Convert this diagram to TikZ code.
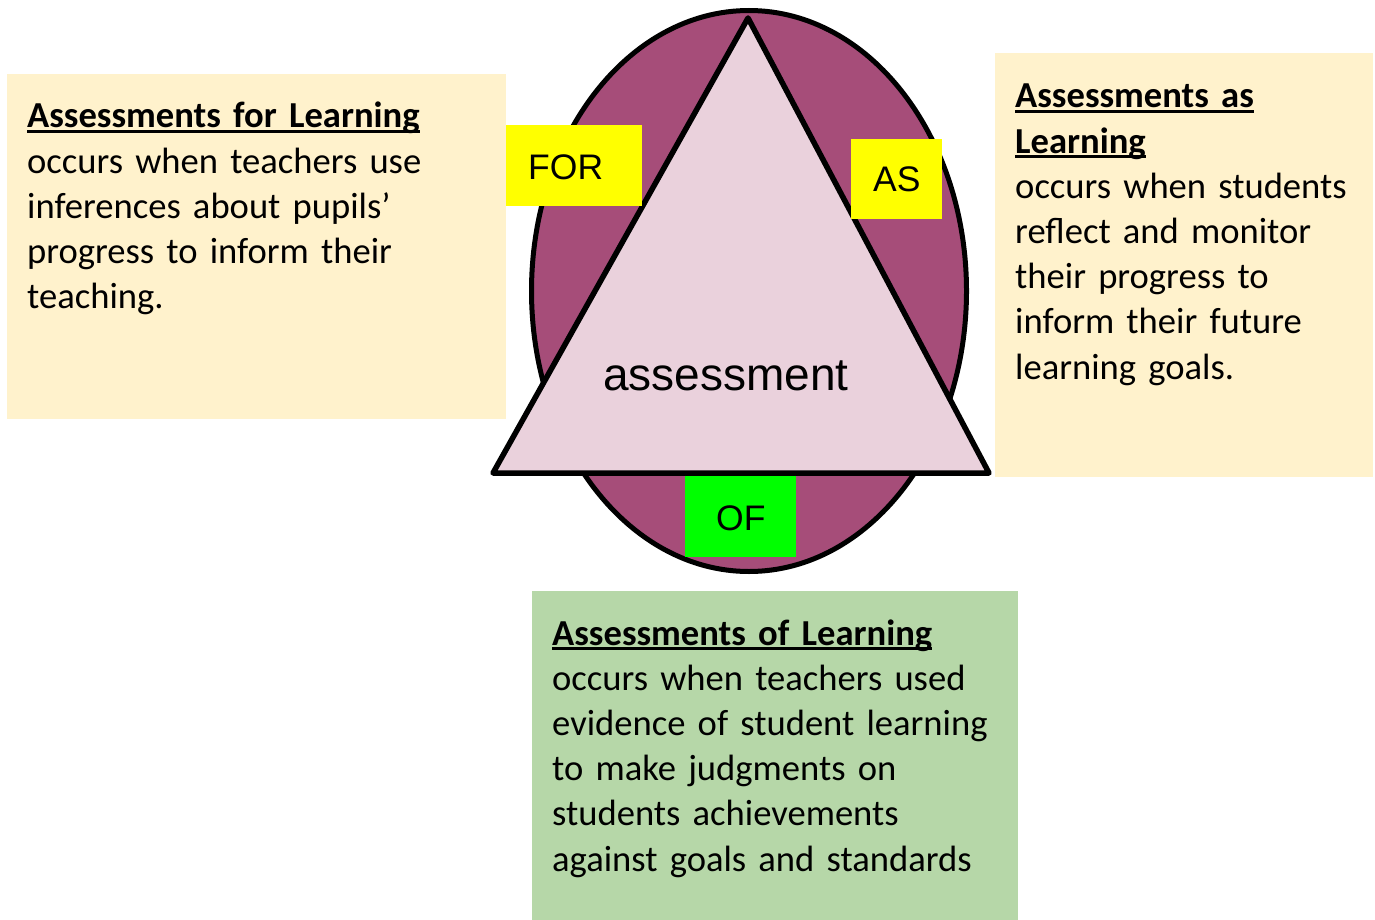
\documentclass[tikz,border=0pt]{standalone}
\usepackage{fontspec}
\usetikzlibrary{shapes.geometric}
\setmainfont[WordSpace=0.75]{Carlito}
\newfontfamily\arialf{Liberation Sans}
\definecolor{cream}{HTML}{FFF2CC}
\definecolor{plum}{HTML}{A64D79}
\definecolor{pinkfill}{HTML}{EAD1DC}
\definecolor{sage}{HTML}{B6D7A8}
\definecolor{yel}{HTML}{FFFF00}
\definecolor{lime}{HTML}{00FF00}
\newcommand\myul[1]{\setbox0\hbox{#1}\rlap{\rule[-5pt]{\wd0}{2.8pt}}\box0}
\tikzset{
  body/.style={anchor=base west,inner sep=0,text width=#1,align=left,
    font=\fontsize{36.6}{45.2}\selectfont},
  tag/.style={anchor=base west,inner sep=0,font=\arialf\fontsize{35.5}{40}\selectfont}
}
\begin{document}
\begin{tikzpicture}[x=1pt,y=-1pt]
\useasboundingbox (0,0) rectangle (1375,920);
% panels
\fill[cream] (7,74) rectangle (506,419);
\fill[cream] (995,53) rectangle (1373,477);
\fill[sage] (532,591) rectangle (1018,920);
% ellipse and triangle
\node[draw=black,line width=5pt,fill=plum,ellipse,minimum width=435pt,minimum height=561pt,inner sep=0] (ell) at (749,291) {};
\coordinate (apex) at (748,18);
\coordinate (bl) at (493,473);
\coordinate (br) at (989,473);
\draw[line width=5.5pt,line join=round,fill=pinkfill] (apex) -- (bl) -- (br) -- cycle;
% tag boxes
\fill[yel] (506,125) rectangle (642,206);
\fill[yel] (851,139) rectangle (942,219);
\fill[lime] (685,476) rectangle (796,557);
\node[tag] (for) at (528,179) {FOR};
\node[tag] (as) at (873,192) {AS};
\node[tag] (of) at (716,530) {OF};
\node[anchor=base west,inner sep=0,font=\arialf\fontsize{46}{50}\selectfont] (assess) at (603,390) {assessment};
% texts
\node[body=470pt] (lt) at (27,128) {\textbf{\myul{Assessments for Learning}}\\
occurs when teachers use\\
inferences about pupils’\\
progress to inform their\\
teaching.};
\node[body=360pt] (rt) at (1015,108) {\textbf{\myul{Assessments as}}\\
\textbf{\myul{Learning}}\\
occurs when students\\
reflect and monitor\\
their progress to\\
inform their future\\
learning goals.};
\node[body=460pt] (bt) at (552,645) {\textbf{\myul{Assessments of Learning}}\\
occurs when teachers used\\
evidence of student learning\\
to make judgments on\\
students achievements\\
against goals and standards};
\end{tikzpicture}
\end{document}
